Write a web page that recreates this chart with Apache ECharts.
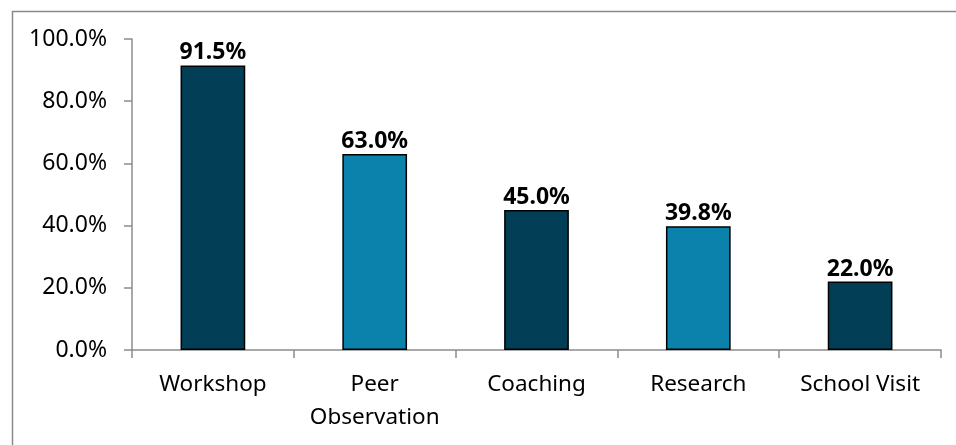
<!DOCTYPE html>
<html><head><meta charset="utf-8">
<script src="https://cdn.jsdelivr.net/npm/echarts@6/dist/echarts.min.js"></script>
<style>html,body{margin:0;padding:0;background:#fff}#c{width:956px;height:445px}</style>
</head><body><div id="c"></div>
<script>
const categories = ['Workshop', 'Peer\nObservation', 'Coaching', 'Research', 'School Visit'];
const values = [91.5, 63.0, 45.0, 39.8, 22.0];
const barColors = ['#023F56', '#0A82AB', '#023F56', '#0A82AB', '#023F56'];
const yTicks = { min: 0, max: 100, interval: 20 };

const chart = echarts.init(document.getElementById('c'), null, { renderer: 'canvas' });
const font = '"Noto Sans", sans-serif';
chart.setOption({
  animation: false,
  graphic: [{
    type: 'rect', left: 10, top: 9, silent: true,
    shape: { x: 0.5, y: 0.5, width: 1000, height: 600 },
    style: { fill: 'none', stroke: '#8a8a8a', lineWidth: 1.5 }
  }],
  grid: { left: 132, right: 15, top: 39, bottom: 95, containLabel: false },
  xAxis: {
    type: 'category', data: categories,
    axisLine: { lineStyle: { color: '#8c8c8c', width: 1.5 } },
    axisTick: { show: true, length: 8, alignWithLabel: false, lineStyle: { color: '#8c8c8c', width: 1.5 } },
    axisLabel: { color: '#000', fontFamily: font, fontSize: 22.5, margin: 18, lineHeight: 33, interval: 0 }
  },
  yAxis: {
    type: 'value', min: yTicks.min, max: yTicks.max, interval: yTicks.interval,
    splitLine: { show: false },
    axisLine: { show: true, lineStyle: { color: '#8c8c8c', width: 1.5 } },
    axisTick: { show: true, length: 8, lineStyle: { color: '#8c8c8c', width: 1.5 } },
    axisLabel: { color: '#000', fontFamily: font, fontSize: 23, margin: 25,
      formatter: v => v.toFixed(1) + '%' }
  },
  series: [{
    type: 'bar',
    barWidth: '40%',
    data: values.map((v, i) => ({ value: v, itemStyle: { color: barColors[i] } })),
    itemStyle: { borderColor: '#000', borderWidth: 1.5 },
    label: { show: true, position: 'top', distance: 1, color: '#000', fontWeight: 'bold',
      fontFamily: font, fontSize: 23, formatter: p => p.value.toFixed(1) + '%' }
  }]
});
</script></body></html>
